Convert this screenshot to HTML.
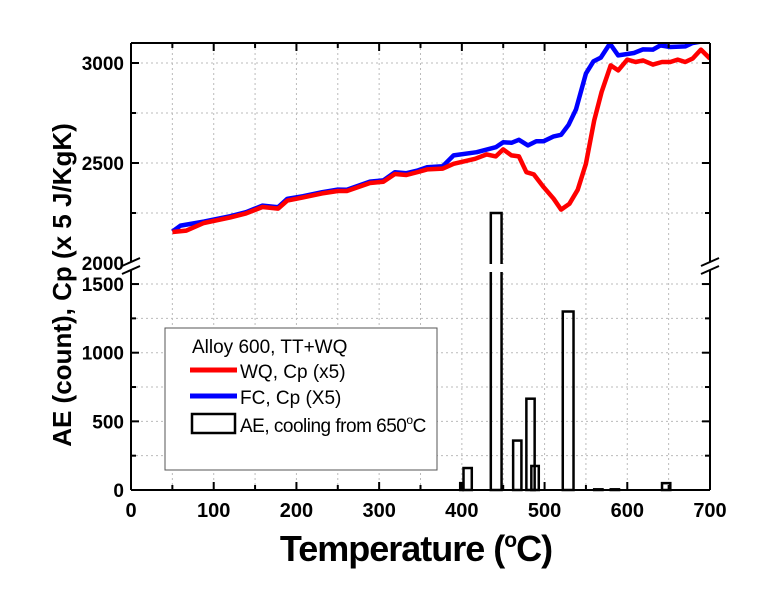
<!DOCTYPE html>
<html><head><meta charset="utf-8"><style>
body{margin:0;background:#fff;}
svg text{font-family:"Liberation Sans",Arial,sans-serif;font-weight:bold;}
</style></head><body>
<svg id="c" width="770" height="609" viewBox="0 0 770 609" xmlns="http://www.w3.org/2000/svg">
<g id="grid"></g>
<g id="marks"></g>
<g id="axes"></g>
<text x="416" y="561" font-size="36" text-anchor="middle" style="letter-spacing:-1px">Temperature (<tspan font-size="21" dy="-14">o</tspan><tspan dy="14">C)</tspan></text>
<text transform="translate(71,285) rotate(-90)" font-size="26" text-anchor="middle">AE (count), Cp (x 5 J/KgK)</text>
<g>
<rect x="165" y="328" width="272" height="142" fill="#fff" stroke="#555" stroke-width="1"/>
<text x="192" y="353" font-size="19" style="font-weight:normal">Alloy 600, TT+WQ</text>
<line x1="190" y1="370" x2="237" y2="370" stroke="#f00" stroke-width="5"/>
<text x="240" y="378" font-size="19" style="font-weight:normal">WQ, Cp (x5)</text>
<line x1="190" y1="396" x2="237" y2="396" stroke="#00f" stroke-width="5"/>
<text x="240" y="404" font-size="19" style="font-weight:normal">FC, Cp (X5)</text>
<rect x="192" y="414" width="43" height="19" fill="none" stroke="#000" stroke-width="2.5"/>
<text x="240" y="432" font-size="19" style="font-weight:normal;letter-spacing:-0.5px">AE, cooling from 650<tspan font-size="12" dy="-8">o</tspan><tspan dy="8">C</tspan></text>
</g>
</svg>
<script>
const wqT=[50,67,88,120,139,159,178,189,208,231,250,261,289,305,319,333,347,358,377,390,416,430,441,450,460,469,478,487,499,511,520,530,540,550,560,569,580,589,600,610,619,631,642,652,661,670,679,689,700];
const wqCp=[2155,2162,2200,2228,2248,2280,2272,2312,2328,2348,2360,2360,2400,2406,2445,2440,2455,2468,2472,2496,2521,2543,2533,2568,2538,2533,2454,2443,2379,2321,2267,2296,2366,2496,2713,2855,2988,2963,3017,3005,3013,2992,3005,3005,3017,3005,3022,3067,3022];
const fcT=[50,60,88,120,139,159,178,189,208,231,250,261,289,305,319,333,347,358,377,390,418,441,450,460,469,480,490,499,511,520,529,538,550,559,568,579,589,608,619,631,640,652,670,679,700];
const fcCp=[2157,2187,2207,2234,2254,2287,2279,2321,2334,2354,2367,2366,2407,2413,2454,2449,2463,2479,2484,2538,2554,2579,2604,2601,2616,2588,2609,2609,2633,2641,2691,2768,2947,3008,3027,3097,3038,3050,3068,3067,3088,3080,3083,3100,3115];
const aeStart=[398,402,435,462,478,484,522,560,580,642];
const aeEnd=[401,412,448,472,488,493,535,570,590,652];
const aeCount=[50,160,2250,360,665,175,1300,5,5,50];
const xTicks=[0,100,200,300,400,500,600,700];
const upTicks=[2000,2500,3000];
const lowTicks=[0,500,1000,1500];
const NS="http://www.w3.org/2000/svg";
const X0=131,X1=710,TOP=43,BOT=490;
const sx=t=>X0+t*(X1-X0)/700;
const syU=v=>63+(3000-v)*0.2;
const syL=v=>BOT-v*0.1373;
function mk(tag,attrs,parent){const e=document.createElementNS(NS,tag);for(const k in attrs)e.setAttribute(k,attrs[k]);parent.appendChild(e);return e;}
const grid=document.getElementById('grid'),marks=document.getElementById('marks'),axes=document.getElementById('axes');
for(let t=50;t<700;t+=50){const l=mk('line',{x1:sx(t),x2:sx(t),y1:TOP,y2:BOT,stroke:'#bbb','stroke-dasharray':'2,3'},grid);

}
for(let v=2250;v<3100;v+=250){const l=mk('line',{x1:X0,x2:X1,y1:syU(v),y2:syU(v),stroke:'#bbb','stroke-dasharray':'2,3'},grid);

}
for(let v=250;v<1600;v+=250){const l=mk('line',{x1:X0,x2:X1,y1:syL(v),y2:syL(v),stroke:'#bbb','stroke-dasharray':'2,3'},grid);

}
aeCount.forEach((c,i)=>{const x=sx(aeStart[i]),w=sx(aeEnd[i])-sx(aeStart[i]);
const y=c>1600?syU(c):syL(c);
const r=mk('rect',{x:x,y:y,width:w,height:BOT-y,fill:'none',stroke:'#000','stroke-width':2.5},marks);


if(c>1600){const g=mk('rect',{x:x-3,y:264,width:w+6,height:8,fill:'#fff'},marks);

}});
function line(T,V,col,name){const d=T.map((t,i)=>(i?'L':'M')+sx(t).toFixed(1)+','+syU(V[i]).toFixed(1)).join('');
const p=mk('path',{d:d,fill:'none',stroke:col,'stroke-width':4.5,'stroke-linejoin':'round','clip-path':'url(#cl)'},marks);

}
const defs=mk('defs',{},document.getElementById('c'));
const cp=mk('clipPath',{id:'cl'},defs);mk('rect',{x:X0,y:TOP,width:X1-X0,height:230},cp);
line(fcT,fcCp,'#00f','fc-cp-line');
line(wqT,wqCp,'#f00','wq-cp-line');
[[X0,TOP,X1,TOP],[X0,BOT,X1,BOT],[X0,TOP,X0,262],[X0,270,X0,BOT],[X1,TOP,X1,262],[X1,270,X1,BOT]].forEach(a=>{
const l=mk('line',{x1:a[0],y1:a[1],x2:a[2],y2:a[3],stroke:'#000','stroke-width':2},axes);

});
[X0,X1].forEach(x=>{[262,270].forEach(y=>{const l=mk('line',{x1:x-9,y1:y+4,x2:x+9,y2:y-4,stroke:'#000','stroke-width':2},axes);

});});
for(let t=0;t<=700;t+=50){const L=t%100===0?8:5;
mk('line',{x1:sx(t),x2:sx(t),y1:BOT,y2:BOT-L,stroke:'#000','stroke-width':2},axes);
mk('line',{x1:sx(t),x2:sx(t),y1:TOP,y2:TOP+L,stroke:'#000','stroke-width':2},axes);}
xTicks.forEach(t=>{const e=mk('text',{x:sx(t),y:BOT+27,'font-size':20,'text-anchor':'middle'},axes);e.textContent=t;

});
for(let v=2250;v<3100;v+=250){const L=v%500===0?8:5;
mk('line',{x1:X0,x2:X0+L,y1:syU(v),y2:syU(v),stroke:'#000','stroke-width':2},axes);
mk('line',{x1:X1,x2:X1-L,y1:syU(v),y2:syU(v),stroke:'#000','stroke-width':2},axes);}
for(let v=250;v<1600;v+=250){const L=v%500===0?8:5;
mk('line',{x1:X0,x2:X0+L,y1:syL(v),y2:syL(v),stroke:'#000','stroke-width':2},axes);
mk('line',{x1:X1,x2:X1-L,y1:syL(v),y2:syL(v),stroke:'#000','stroke-width':2},axes);}
upTicks.forEach(v=>{const e=mk('text',{x:124,y:syU(v)+7,'font-size':19,'text-anchor':'end'},axes);e.textContent=v;

});
lowTicks.forEach(v=>{const e=mk('text',{x:124,y:syL(v)+7,'font-size':19,'text-anchor':'end'},axes);e.textContent=v;

});
</script>
</body></html>
